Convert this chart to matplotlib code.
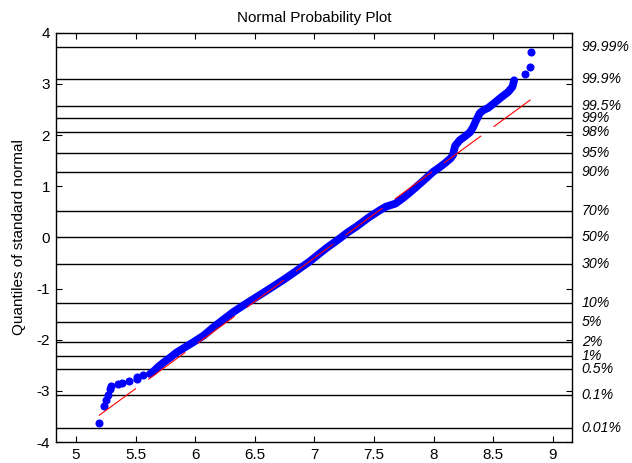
## Normal probability plot (MATLAB normplot style)
import matplotlib
matplotlib.use("Agg")
import matplotlib.pyplot as plt
from matplotlib.transforms import blended_transform_factory
from statistics import NormalDist

plt.rcParams['font.family'] = ['Liberation Sans', 'DejaVu Sans']
plt.rcParams['axes.unicode_minus'] = False
plt.rcParams['lines.scale_dashes'] = False

# sorted sample values (x) vs standard normal quantiles (y)
lo_x = [5.193, 5.235, 5.25, 5.265, 5.285, 5.293, 5.355, 5.383, 5.447, 5.509, 5.514, 5.565]
lo_y = [-3.62, -3.30, -3.17, -3.08, -2.97, -2.91, -2.87, -2.84, -2.80, -2.76, -2.72, -2.69]

body_x = [5.62, 5.65, 5.69, 5.732, 5.79, 5.844, 5.92, 5.984, 6.07, 6.151, 6.24, 6.319,
          6.39, 6.458, 6.56, 6.654, 6.74, 6.821, 6.90, 6.961, 7.03, 7.10, 7.16, 7.213,
          7.28, 7.352, 7.45, 7.548, 7.60, 7.68, 7.75, 7.827, 7.91, 7.995, 8.05, 8.10,
          8.14, 8.163, 8.17, 8.18, 8.219, 8.26, 8.303, 8.33, 8.355, 8.387, 8.42, 8.457,
          8.51, 8.568, 8.624, 8.66, 8.675]
body_y = [-2.67, -2.62, -2.53, -2.45, -2.35, -2.25, -2.14, -2.05, -1.92, -1.76, -1.60, -1.46,
          -1.35, -1.25, -1.10, -0.96, -0.83, -0.70, -0.57, -0.47, -0.34, -0.21, -0.11, -0.02,
          0.10, 0.21, 0.38, 0.53, 0.60, 0.66, 0.78, 0.93, 1.10, 1.28, 1.37, 1.46,
          1.54, 1.61, 1.70, 1.79, 1.90, 1.97, 2.05, 2.15, 2.28, 2.43, 2.49, 2.53,
          2.63, 2.74, 2.84, 2.94, 3.07]

hi_x = [8.764, 8.806, 8.82]
hi_y = [3.19, 3.32, 3.62]

# fitted normal for the reference line
fit_mu = 7.235
fit_sigma = 0.5865

probs = [0.0001, 0.001, 0.005, 0.01, 0.02, 0.05, 0.10, 0.30, 0.50, 0.70,
         0.90, 0.95, 0.98, 0.99, 0.995, 0.999, 0.9999]
prob_labels = ['0.01%', '0.1%', '0.5%', '1%', '2%', '5%', '10%', '30%', '50%', '70%',
               '90%', '95%', '98%', '99%', '99.5%', '99.9%', '99.99%']

xticks = [5, 5.5, 6, 6.5, 7, 7.5, 8, 8.5, 9]
xtick_labels = ['5', '5.5', '6', '6.5', '7', '7.5', '8', '8.5', '9']
yticks = [-4, -3, -2, -1, 0, 1, 2, 3, 4]
ytick_labels = ['-4', '-3', '-2', '-1', '0', '1', '2', '3', '4']

fig = plt.figure(figsize=(6.32, 4.63), dpi=100)
ax = fig.add_axes([55.7 / 632, 21 / 463, (572 - 55.7) / 632, (442 - 32.7) / 463])

# probability grid lines + right-hand labels
trans = blended_transform_factory(ax.transAxes, ax.transData)
nd = NormalDist()
for p, lab in zip(probs, prob_labels):
    z = nd.inv_cdf(p)
    ax.axhline(z, color='k', lw=1.0, zorder=1)
    ax.text(1.019, z, lab, transform=trans, ha='left', va='center',
            style='italic', fontsize=10.2, clip_on=False)

# data
blue = '#0000ff'
ax.plot(body_x, body_y, '-', color=blue, lw=5.6, solid_capstyle='round',
        solid_joinstyle='round', zorder=2)
ax.plot(lo_x, lo_y, 'o', color=blue, ms=4.8, mec=blue, zorder=2)
ax.plot(hi_x, hi_y, 'o', color=blue, ms=4.8, mec=blue, zorder=2)

# reference line, from min to max of the data
all_x = lo_x + body_x + hi_x
line_x = [min(all_x), max(all_x)]
line_y = [(v - fit_mu) / fit_sigma for v in line_x]
ax.plot(line_x, line_y, color='r', lw=0.8, dashes=(33, 11), zorder=3)

ax.set_xlim(4.83, 9.16)
ax.set_ylim(-4, 4)
ax.set_xticks(xticks)
ax.set_xticklabels(xtick_labels)
ax.set_yticks(yticks)
ax.set_yticklabels(ytick_labels)
ax.tick_params(direction='in', top=True, right=True, length=4, width=0.8,
               labelsize=11, pad=4)
for s in ax.spines.values():
    s.set_linewidth(1.0)

ax.set_ylabel('Quantiles of standard normal', fontsize=11, labelpad=8)
ax.set_title('Normal Probability Plot', fontsize=11, pad=8)

plt.savefig('out.png', dpi=100)
